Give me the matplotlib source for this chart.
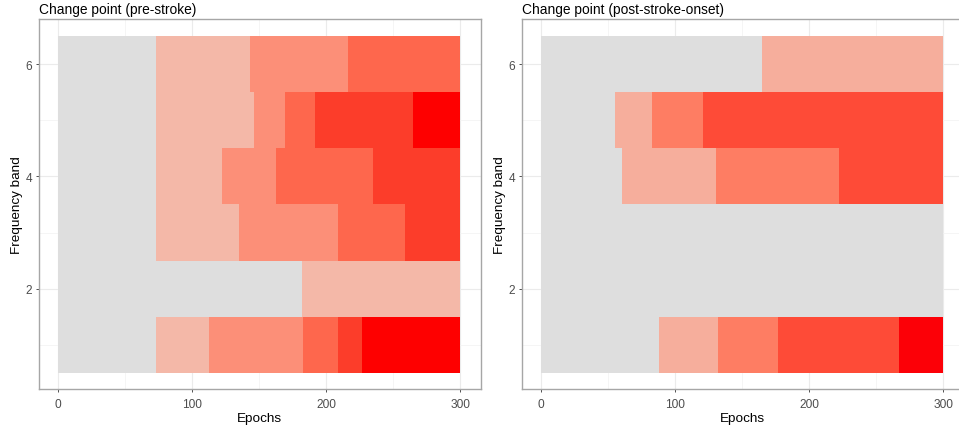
import numpy as np
import matplotlib.pyplot as plt
from matplotlib.ticker import MultipleLocator

plt.rcParams['font.family'] = ['Liberation Sans', 'DejaVu Sans']

# frequency bands (rows) and the last epoch
bands = [1, 2, 3, 4, 5, 6]
last_epoch = 300

# pre-stroke: start epoch of each segment per band, and its level
pre_starts = [
    [0, 73, 113, 183, 208.5, 227],
    [0, 182],
    [0, 73, 135, 208.5, 259],
    [0, 73, 122.5, 162.5, 235],
    [0, 73, 146, 169, 192, 265],
    [0, 73, 143, 216],
]
pre_levels = [
    [0, 1, 2, 3, 4, 5],
    [0, 1],
    [0, 1, 2, 3, 4],
    [0, 1, 2, 3, 4],
    [0, 1, 2, 3, 4, 5],
    [0, 1, 2, 3],
]
pre_colors = ['#DEDEDE', '#F4B8A8', '#FC8F78', '#FE674D', '#FC3D2A', '#FE0000']

# post-stroke-onset
post_starts = [
    [0, 88, 132, 177, 267],
    [0],
    [0],
    [0, 60.5, 130.5, 222.5],
    [0, 55.5, 82.5, 121],
    [0, 165],
]
post_levels = [
    [0, 1, 2, 3, 4],
    [0],
    [0],
    [0, 1, 2, 3],
    [0, 1, 2, 3],
    [0, 1],
]
post_colors = ['#DEDEDE', '#F6AE9C', '#FE7D63', '#FE4B37', '#FC0007']

titles = ['Change point (pre-stroke)', 'Change point (post-stroke-onset)']

fig = plt.figure(figsize=(9.59, 4.35), dpi=100)
ax1 = fig.add_axes([0.0404, 0.1023, 0.4608, 0.8506])
ax2 = fig.add_axes([0.5440, 0.1023, 0.4608, 0.8506])


def draw(ax, starts, levels, colors, title):
    for band, st, lv in zip(bands, starts, levels):
        ends = list(st[1:]) + [last_epoch]
        for l, e, k in zip(st, ends, lv):
            ax.barh(band, e - l, left=l, height=1, color=colors[k],
                    linewidth=0, zorder=2)
    ax.set_xlim(-14.3, 315.2)
    ax.set_ylim(0.2, 6.8)
    ax.set_xticks([0, 100, 200, 300])
    ax.set_yticks([2, 4, 6])
    ax.xaxis.set_minor_locator(MultipleLocator(50))
    ax.yaxis.set_minor_locator(MultipleLocator(1))
    ax.grid(True, which='major', color='#EBEBEB', linewidth=0.8, zorder=0)
    ax.grid(True, which='minor', color='#F2F2F2', linewidth=0.5, zorder=0)
    ax.set_axisbelow(True)
    ax.tick_params(which='minor', length=0)
    ax.tick_params(which='major', length=2.2, width=0.6, color='#333333',
                   labelcolor='#4D4D4D', labelsize=8.6)
    ax.tick_params(axis='x', pad=4)
    ax.tick_params(axis='y', pad=2.5)
    for sp in ax.spines.values():
        sp.set_color('#A6A6A6')
        sp.set_linewidth(1.0)
    ax.set_xlabel('Epochs', fontsize=9.7, labelpad=1.5)
    ax.set_ylabel('Frequency band', fontsize=9.7, labelpad=2)
    ax.set_title(title, loc='left', fontsize=9.9, pad=5)


draw(ax1, pre_starts, pre_levels, pre_colors, titles[0])
draw(ax2, post_starts, post_levels, post_colors, titles[1])

fig.savefig('out.png', dpi=100)
